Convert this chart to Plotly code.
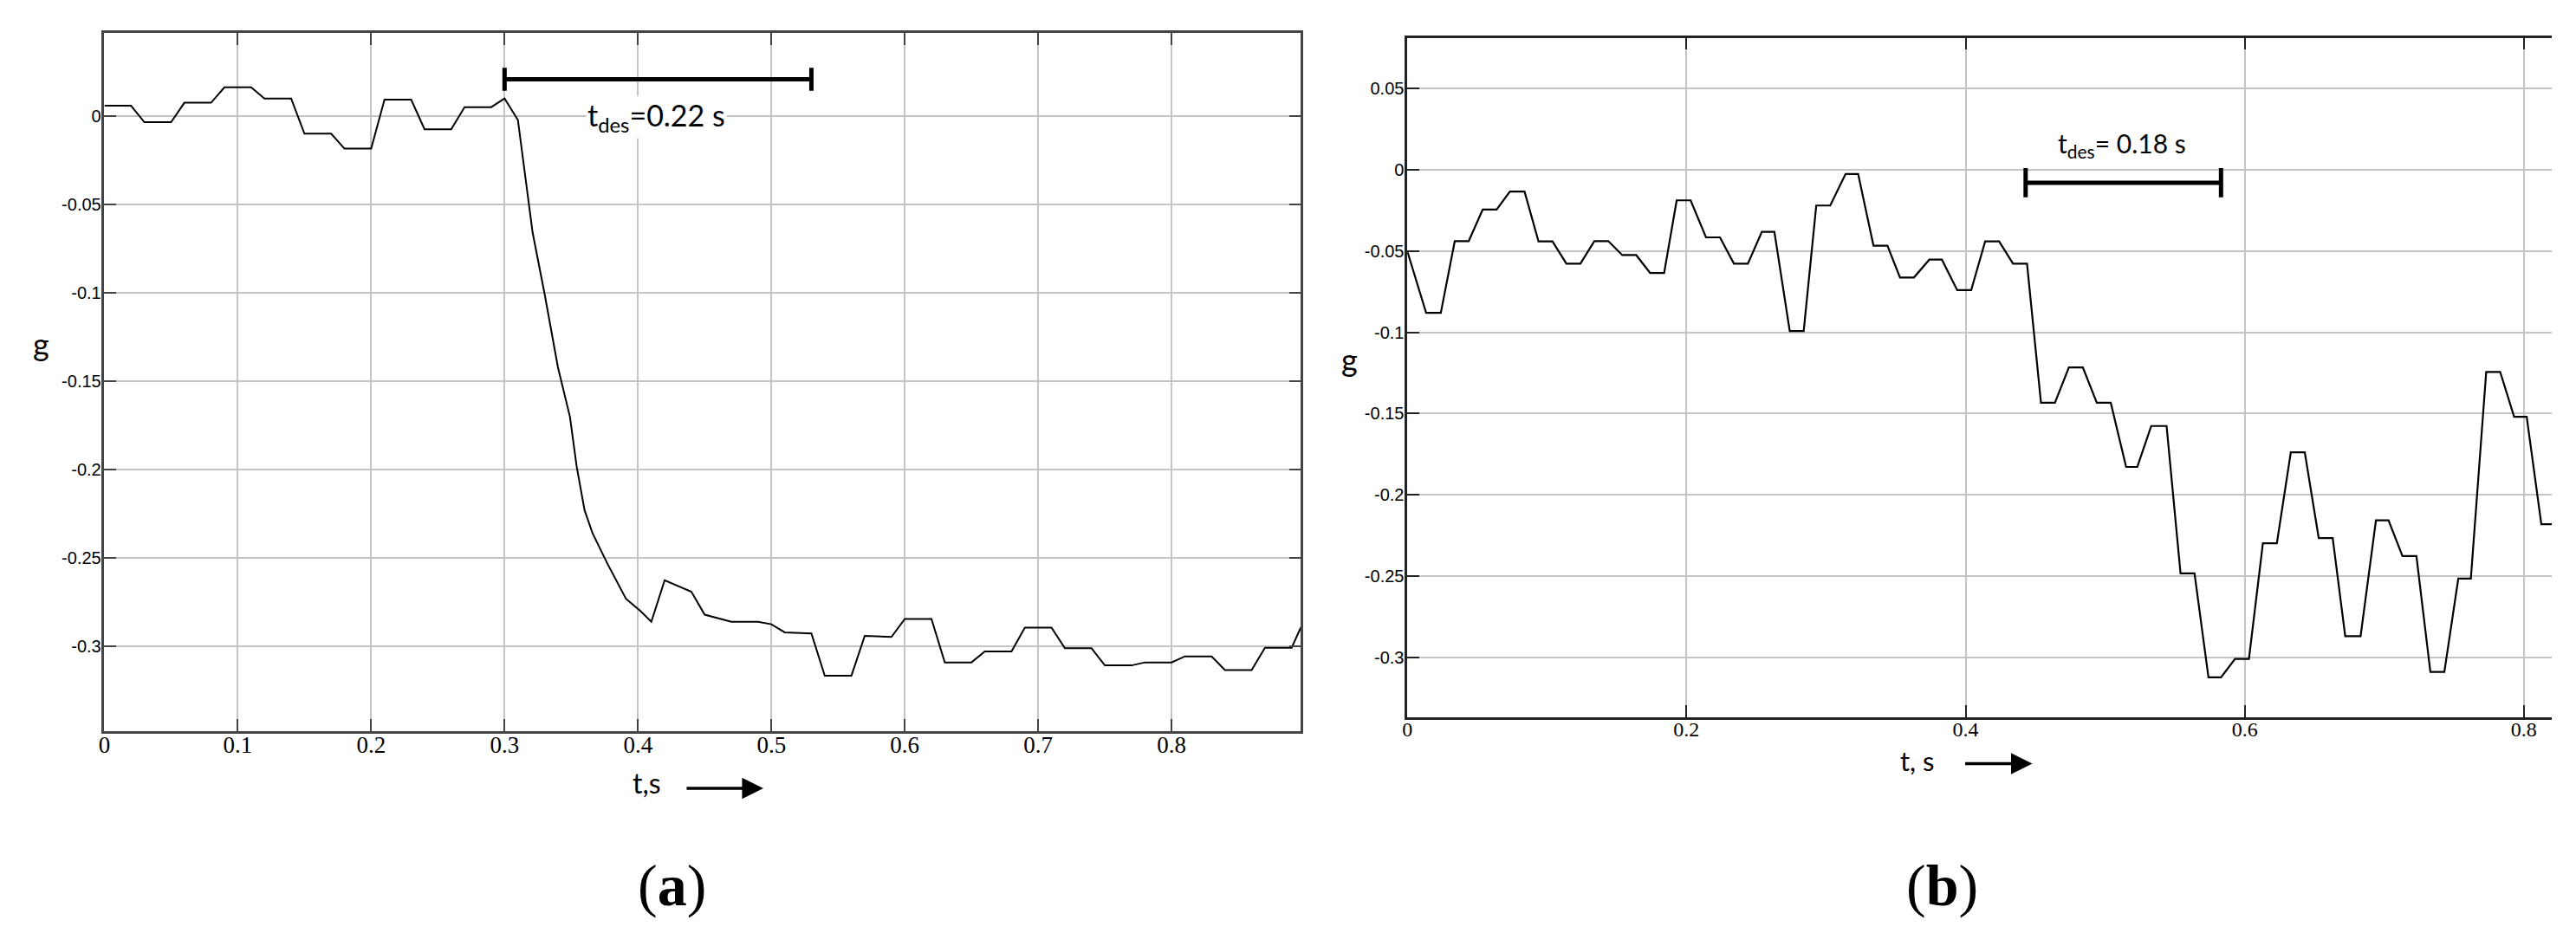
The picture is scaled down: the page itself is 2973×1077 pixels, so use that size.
import plotly.graph_objects as go

# panel (a) - step response, desc. time 0.22 s
t_a = [0, 0.02, 0.03, 0.05, 0.06, 0.08, 0.09, 0.11, 0.12, 0.14,
       0.15, 0.17, 0.18, 0.20, 0.21, 0.23, 0.24, 0.26, 0.27, 0.29,
       0.30, 0.31, 0.321, 0.33, 0.34, 0.349, 0.354, 0.36, 0.366, 0.377,
       0.391, 0.402, 0.41, 0.42, 0.44, 0.45, 0.47, 0.49, 0.50, 0.51,
       0.53, 0.54, 0.56, 0.57, 0.59, 0.60, 0.62, 0.63, 0.65, 0.66,
       0.68, 0.69, 0.71, 0.72, 0.74, 0.75, 0.77, 0.78, 0.80, 0.81,
       0.83, 0.84, 0.86, 0.87, 0.89, 0.897]
g_a = [0.006, 0.006, -0.0033, -0.0033, 0.0077, 0.0077, 0.0164, 0.0164, 0.0101, 0.0101,
       -0.0098, -0.0098, -0.0183, -0.0183, 0.0094, 0.0094, -0.0073, -0.0073, 0.0052, 0.0052,
       0.0101, -0.0021, -0.0657, -0.1005, -0.142, -0.170, -0.198, -0.223, -0.236, -0.253,
       -0.273, -0.280, -0.286, -0.2625, -0.269, -0.282, -0.286, -0.286, -0.2874, -0.292,
       -0.2926, -0.3165, -0.3165, -0.294, -0.2946, -0.2844, -0.2844, -0.309, -0.309, -0.3028,
       -0.3028, -0.2893, -0.2893, -0.301, -0.301, -0.3107, -0.3107, -0.309, -0.309, -0.3056,
       -0.3056, -0.3133, -0.3133, -0.3007, -0.3007, -0.289]

# panel (b) - desc. time 0.18 s
t_b = [0, 0.0135, 0.024, 0.034, 0.044, 0.054, 0.064, 0.0735, 0.084, 0.094,
       0.104, 0.114, 0.124, 0.134, 0.144, 0.154, 0.164, 0.174, 0.184, 0.193,
       0.203, 0.214, 0.224, 0.234, 0.244, 0.254, 0.263, 0.274, 0.284, 0.293,
       0.303, 0.314, 0.323, 0.334, 0.344, 0.353, 0.363, 0.374, 0.383, 0.394,
       0.404, 0.414, 0.424, 0.434, 0.444, 0.454, 0.464, 0.474, 0.484, 0.494,
       0.504, 0.515, 0.523, 0.533, 0.544, 0.554, 0.564, 0.574, 0.583, 0.593,
       0.603, 0.613, 0.623, 0.633, 0.643, 0.653, 0.663, 0.672, 0.683, 0.694,
       0.703, 0.713, 0.723, 0.733, 0.743, 0.753, 0.762, 0.773, 0.783, 0.793,
       0.802, 0.8125, 0.82]
g_b = [-0.050, -0.088, -0.088, -0.0438, -0.0438, -0.0244, -0.0244, -0.0133, -0.0133, -0.044,
       -0.044, -0.0577, -0.0577, -0.0438, -0.0438, -0.0524, -0.0524, -0.0634, -0.0634, -0.0187,
       -0.0187, -0.0415, -0.0415, -0.0577, -0.0577, -0.0381, -0.0381, -0.0992, -0.0992, -0.0219,
       -0.0219, -0.0025, -0.0025, -0.0466, -0.0466, -0.0662, -0.0662, -0.0552, -0.0552, -0.074,
       -0.074, -0.044, -0.044, -0.0577, -0.0577, -0.1433, -0.1433, -0.1215, -0.1215, -0.1433,
       -0.1433, -0.1828, -0.1828, -0.1576, -0.1576, -0.2483, -0.2483, -0.3123, -0.3123, -0.301,
       -0.301, -0.2298, -0.2298, -0.1738, -0.1738, -0.2266, -0.2266, -0.287, -0.287, -0.2157,
       -0.2157, -0.2377, -0.2377, -0.309, -0.309, -0.2515, -0.2515, -0.1243, -0.1243, -0.1519,
       -0.1519, -0.2181, -0.2181]

# t_des brackets: start, end, level
tdes_a = [0.30, 0.53, 0.021]
tdes_b = [0.443, 0.583, -0.0079]

xt_a = [0, 0.1, 0.2, 0.3, 0.4, 0.5, 0.6, 0.7, 0.8]
xt_a_txt = ['0', '0.1', '0.2', '0.3', '0.4', '0.5', '0.6', '0.7', '0.8']
yt_a = [0, -0.05, -0.1, -0.15, -0.2, -0.25, -0.3]
yt_a_txt = ['0', '-0.05', '-0.1', '-0.15', '-0.2', '-0.25', '-0.3']
xt_b = [0, 0.2, 0.4, 0.6, 0.8]
xt_b_txt = ['0', '0.2', '0.4', '0.6', '0.8']
yt_b = [0.05, 0, -0.05, -0.1, -0.15, -0.2, -0.25, -0.3]
yt_b_txt = ['0.05', '0', '-0.05', '-0.1', '-0.15', '-0.2', '-0.25', '-0.3']

W, H = 2973, 1077


def bracket(spec, half):
    x0, x1, y = spec
    return ([x0, x1, None, x0, x0, None, x1, x1],
            [y, y, None, y - half, y + half, None, y - half, y + half])


fig = go.Figure()

fig.add_trace(go.Scatter(x=t_a, y=g_a, mode='lines', line={'color': 'black', 'width': 2},
                         xaxis='x', yaxis='y', showlegend=False))
bx, by = bracket(tdes_a, 0.0065)
fig.add_trace(go.Scatter(x=bx, y=by, mode='lines', line={'color': 'black', 'width': 5},
                         xaxis='x', yaxis='y', showlegend=False))

fig.add_trace(go.Scatter(x=t_b, y=g_b, mode='lines', line={'color': 'black', 'width': 2.2},
                         xaxis='x2', yaxis='y2', showlegend=False))
bx, by = bracket(tdes_b, 0.009)
fig.add_trace(go.Scatter(x=bx, y=by, mode='lines', line={'color': 'black', 'width': 5},
                         xaxis='x2', yaxis='y2', showlegend=False))

axis_common = dict(showline=True, linewidth=2.5,
                   ticks='inside', ticklen=14, tickwidth=2,
                   showgrid=True, gridcolor='#c4c4c4', gridwidth=1.5, zeroline=False)
serif_ticks = {'family': 'Liberation Serif, DejaVu Serif, serif', 'color': 'black'}
sans_ticks = {'family': 'Liberation Sans, Arial, sans-serif', 'color': 'black', 'size': 20}

fig.update_layout(
    width=W, height=H,
    margin={'l': 0, 'r': 0, 't': 0, 'b': 0},
    paper_bgcolor='white', plot_bgcolor='white',
    xaxis=dict(axis_common, domain=[105.7 / W, 1490 / W], range=[0, 0.897],
               tickvals=xt_a, ticktext=xt_a_txt, mirror='ticks',
               linecolor='#444', tickcolor='#444',
               tickfont=dict(serif_ticks, size=27), ticklabelstandoff=-10, anchor='y'),
    yaxis=dict(axis_common, domain=[1 - 836.2 / H, 1 - 30.4 / H], range=[-0.348, 0.047],
               tickvals=yt_a, ticktext=yt_a_txt, mirror='ticks',
               linecolor='#444', tickcolor='#444',
               tickfont=sans_ticks, ticklabelstandoff=-3, anchor='x'),
    xaxis2=dict(axis_common, domain=[1613 / W, 2937 / W], range=[0, 0.82],
                tickvals=xt_b, ticktext=xt_b_txt, mirror='ticks',
                linecolor='#222', tickcolor='#222',
                tickfont=dict(serif_ticks, size=24), ticklabelstandoff=-10, anchor='y2'),
    yaxis2=dict(axis_common, domain=[1 - 820.2 / H, 1 - 35.7 / H], range=[-0.337, 0.0813],
                tickvals=yt_b, ticktext=yt_b_txt, mirror=False,
                linecolor='#222', tickcolor='#222',
                tickfont=sans_ticks, ticklabelstandoff=-3, anchor='x2'),
)

label_font = {'family': 'Lato, Open Sans, sans-serif', 'color': 'black'}
cap_font = {'family': 'Liberation Serif, DejaVu Serif, serif', 'color': 'black', 'size': 68}


def px(x, y):
    return x / W, 1 - y / H


anns = []
for (x, y, txt, size, bg) in [
    (33, 389, 'g', 36, None),
    (1546, 407, 'g', 36, None),
    (733, 896, 't,s', 32, None),
    (2203, 870, 't, s', 31, None),
    (744, 127, 't<sub>des</sub>=0.22 s', 34, 'white'),
    (2440, 159, 't<sub>des</sub>= 0.18 s', 30, None),
]:
    xx, yy = px(x, y)
    a = dict(x=xx, y=yy, xref='paper', yref='paper', text=txt, showarrow=False,
             font=dict(label_font, size=size), xanchor='center', yanchor='middle')
    if bg:
        a['bgcolor'] = bg
    anns.append(a)

for (x, y, txt) in [(762, 1014, '(<b>a</b>)'), (2232, 1014, '(<b>b</b>)')]:
    xx, yy = px(x, y)
    anns.append(dict(x=xx, y=yy, xref='paper', yref='paper', text=txt, showarrow=False,
                     font=cap_font, xanchor='center', yanchor='middle'))

# arrows next to the time axis titles
for (x0, x1, y) in [(778, 868, 902), (2257, 2336, 873.5)]:
    hx, hy = px(x1, y)
    anns.append(dict(x=hx, y=hy, ax=-(x1 - x0), ay=0, xref='paper', yref='paper',
                     axref='pixel', ayref='pixel', text='', showarrow=True,
                     arrowhead=2, arrowsize=1.4, arrowwidth=3.5, arrowcolor='black'))

fig.update_layout(annotations=anns)

fig.write_html("out.html")
